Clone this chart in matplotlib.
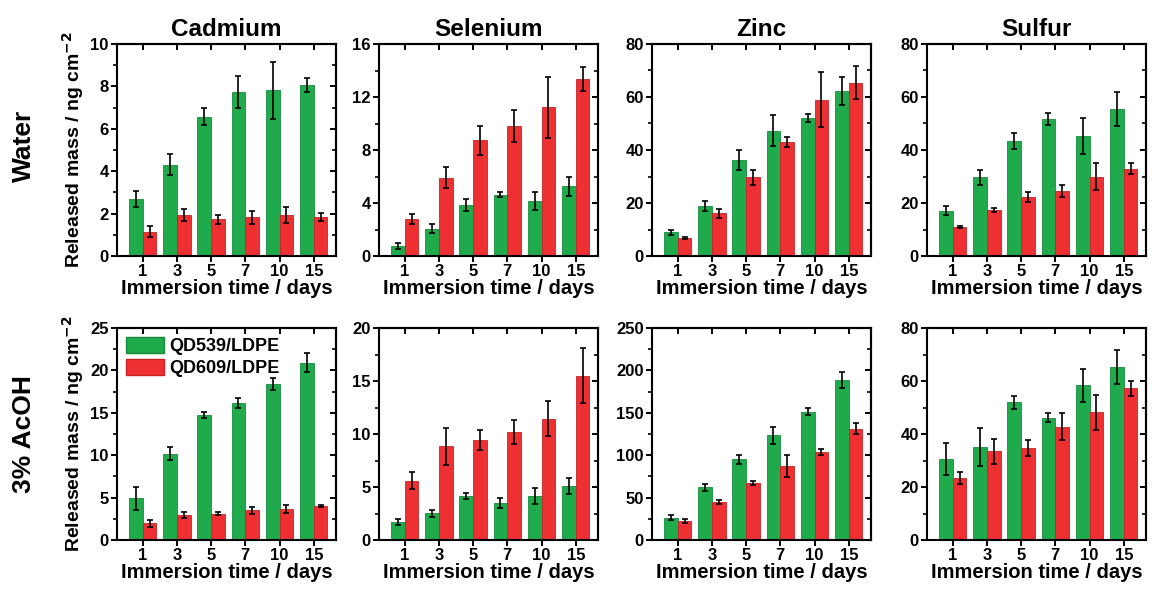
import matplotlib.pyplot as plt
import numpy as np
from matplotlib.ticker import MultipleLocator
from matplotlib.patches import Patch

plt.rcParams['font.family'] = ['Liberation Sans', 'DejaVu Sans']
plt.rcParams['font.weight'] = 'bold'

days = ['1', '3', '5', '7', '10', '15']
elements = ['Cadmium', 'Selenium', 'Zinc', 'Sulfur']
rows = ['Water', '3% AcOH']
labels = ['QD539/LDPE', 'QD609/LDPE']

# Water: QD539 (green) and QD609 (red), mean and error
cd_w_g = [2.69, 4.31, 6.58, 7.72, 7.81, 8.07]
cd_w_g_err = [0.38, 0.5, 0.42, 0.75, 1.33, 0.34]
cd_w_r = [1.15, 1.94, 1.73, 1.83, 1.94, 1.84]
cd_w_r_err = [0.27, 0.27, 0.2, 0.3, 0.39, 0.17]

se_w_g = [0.78, 2.07, 3.86, 4.62, 4.17, 5.25]
se_w_g_err = [0.22, 0.35, 0.43, 0.18, 0.68, 0.7]
se_w_r = [2.78, 5.9, 8.74, 9.82, 11.24, 13.33]
se_w_r_err = [0.38, 0.8, 1.1, 1.2, 2.3, 0.9]

zn_w_g = [9.0, 18.8, 36.3, 47.3, 52.0, 62.2]
zn_w_g_err = [0.9, 2.0, 3.8, 5.9, 1.5, 5.3]
zn_w_r = [6.8, 16.2, 29.7, 43.0, 59.0, 65.4]
zn_w_r_err = [0.4, 1.7, 2.9, 2.0, 10.4, 6.3]

s_w_g = [17.1, 29.7, 43.5, 51.8, 45.3, 55.4]
s_w_g_err = [1.7, 2.9, 3.0, 2.2, 6.9, 6.4]
s_w_r = [11.0, 17.2, 22.4, 24.4, 30.0, 33.0]
s_w_r_err = [0.3, 0.75, 1.9, 2.3, 5.2, 2.1]

# 3% AcOH
cd_a_g = [4.9, 10.2, 14.75, 16.18, 18.4, 20.9]
cd_a_g_err = [1.35, 0.75, 0.35, 0.6, 0.7, 1.1]
cd_a_r = [1.98, 3.0, 3.09, 3.52, 3.64, 4.03]
cd_a_r_err = [0.4, 0.35, 0.2, 0.4, 0.46, 0.1]

se_a_g = [1.74, 2.53, 4.18, 3.48, 4.18, 5.09]
se_a_g_err = [0.28, 0.32, 0.28, 0.44, 0.76, 0.73]
se_a_r = [5.6, 8.83, 9.43, 10.19, 11.42, 15.5]
se_a_r_err = [0.82, 1.77, 0.95, 1.17, 1.65, 2.6]

zn_a_g = [26.1, 62.1, 95.3, 123.4, 151.5, 188.7]
zn_a_g_err = [2.8, 4.4, 5.2, 9.9, 4.0, 9.9]
zn_a_r = [22.5, 44.7, 67.2, 87.4, 103.6, 131.3]
zn_a_r_err = [2.0, 2.4, 2.4, 12.6, 3.2, 6.7]

s_a_g = [30.5, 35.1, 51.9, 46.1, 58.4, 65.3]
s_a_g_err = [6.0, 7.3, 2.5, 1.7, 6.3, 6.3]
s_a_r = [23.5, 33.4, 34.8, 42.7, 48.2, 57.2]
s_a_r_err = [2.2, 4.6, 3.0, 5.1, 6.6, 2.7]

panels = [
    [(cd_w_g, cd_w_g_err, cd_w_r, cd_w_r_err, 10, 2),
     (se_w_g, se_w_g_err, se_w_r, se_w_r_err, 16, 4),
     (zn_w_g, zn_w_g_err, zn_w_r, zn_w_r_err, 80, 20),
     (s_w_g, s_w_g_err, s_w_r, s_w_r_err, 80, 20)],
    [(cd_a_g, cd_a_g_err, cd_a_r, cd_a_r_err, 25, 5),
     (se_a_g, se_a_g_err, se_a_r, se_a_r_err, 20, 5),
     (zn_a_g, zn_a_g_err, zn_a_r, zn_a_r_err, 250, 50),
     (s_a_g, s_a_g_err, s_a_r, s_a_r_err, 80, 20)],
]

green = '#1fab4c'
red = '#ee3033'
green_edge = '#168c3c'
red_edge = '#c92226'

fig = plt.figure(figsize=(11.52, 5.91), dpi=100)
lefts = [117, 379, 652, 927]
width = 219
tops = [44, 328]
height = 212
W, H = 1152, 591

x = np.arange(len(days))
w = 0.4
ekw = dict(ecolor='black', elinewidth=1.2, capsize=2, capthick=1.2)
for r in range(2):
    for c in range(4):
        g, ge, rd, re, ymax, step = panels[r][c]
        ax = fig.add_axes([lefts[c] / W, 1 - (tops[r] + height) / H, width / W, height / H])
        ax.bar(x - w / 2, g, w, color=green, edgecolor=green_edge, linewidth=0.6, yerr=ge, error_kw=ekw)
        ax.bar(x + w / 2, rd, w, color=red, edgecolor=red_edge, linewidth=0.6, yerr=re, error_kw=ekw)
        ax.set_xlim(-0.75, 5.65)
        ax.set_ylim(0, ymax)
        ax.set_xticks(x + 0.0)
        ax.set_xticklabels(days)
        ax.yaxis.set_major_locator(MultipleLocator(step))
        ax.yaxis.set_minor_locator(MultipleLocator(step / 2))
        ax.tick_params(axis='both', labelsize=12, width=1.4, length=4, direction='out', pad=2)
        ax.tick_params(axis='y', which='minor', width=1.2, length=3, direction='out')
        for lab in ax.get_xticklabels() + ax.get_yticklabels():
            lab.set_fontweight('bold')
        for sp in ax.spines.values():
            sp.set_linewidth(1.5)

        # mirrored ticks on top and right, pointing inward
        top = ax.secondary_xaxis('top')
        top.set_xticks(x + 0.0)
        top.tick_params(direction='in', length=4, width=1.4, labeltop=False)
        top.spines['top'].set_linewidth(1.5)
        right = ax.secondary_yaxis('right')
        right.yaxis.set_major_locator(MultipleLocator(step))
        right.yaxis.set_minor_locator(MultipleLocator(step / 2))
        right.tick_params(which='major', direction='in', length=4, width=1.4, labelright=False)
        right.tick_params(which='minor', direction='in', length=3, width=1.2)
        right.spines['right'].set_linewidth(1.5)

        ax.set_xlabel('Immersion time / days', fontsize=14.5, fontweight='bold', labelpad=0)
        if c == 0:
            ax.set_ylabel('Released mass / ng cm$^{\\mathbf{-2}}$', fontsize=14, fontweight='bold', labelpad=3)
        if r == 0:
            ax.set_title(elements[c], fontsize=17.5, fontweight='bold', pad=6)
        if r == 1 and c == 0:
            handles = [Patch(facecolor=green, edgecolor=green_edge), Patch(facecolor=red, edgecolor=red_edge)]
            ax.legend(handles, labels, loc='upper left', frameon=False,
                      handlelength=2.1, handleheight=1.0, borderaxespad=0.3, borderpad=0.2,
                      handletextpad=0.3, labelspacing=0.2, prop=dict(weight='bold', size=13))

fig.text(24 / W, 1 - 146 / H, rows[0], rotation=90, fontsize=19, fontweight='bold', ha='center', va='center')
fig.text(24 / W, 1 - 434 / H, rows[1], rotation=90, fontsize=19, fontweight='bold', ha='center', va='center')

fig.savefig('out.png', dpi=100)
